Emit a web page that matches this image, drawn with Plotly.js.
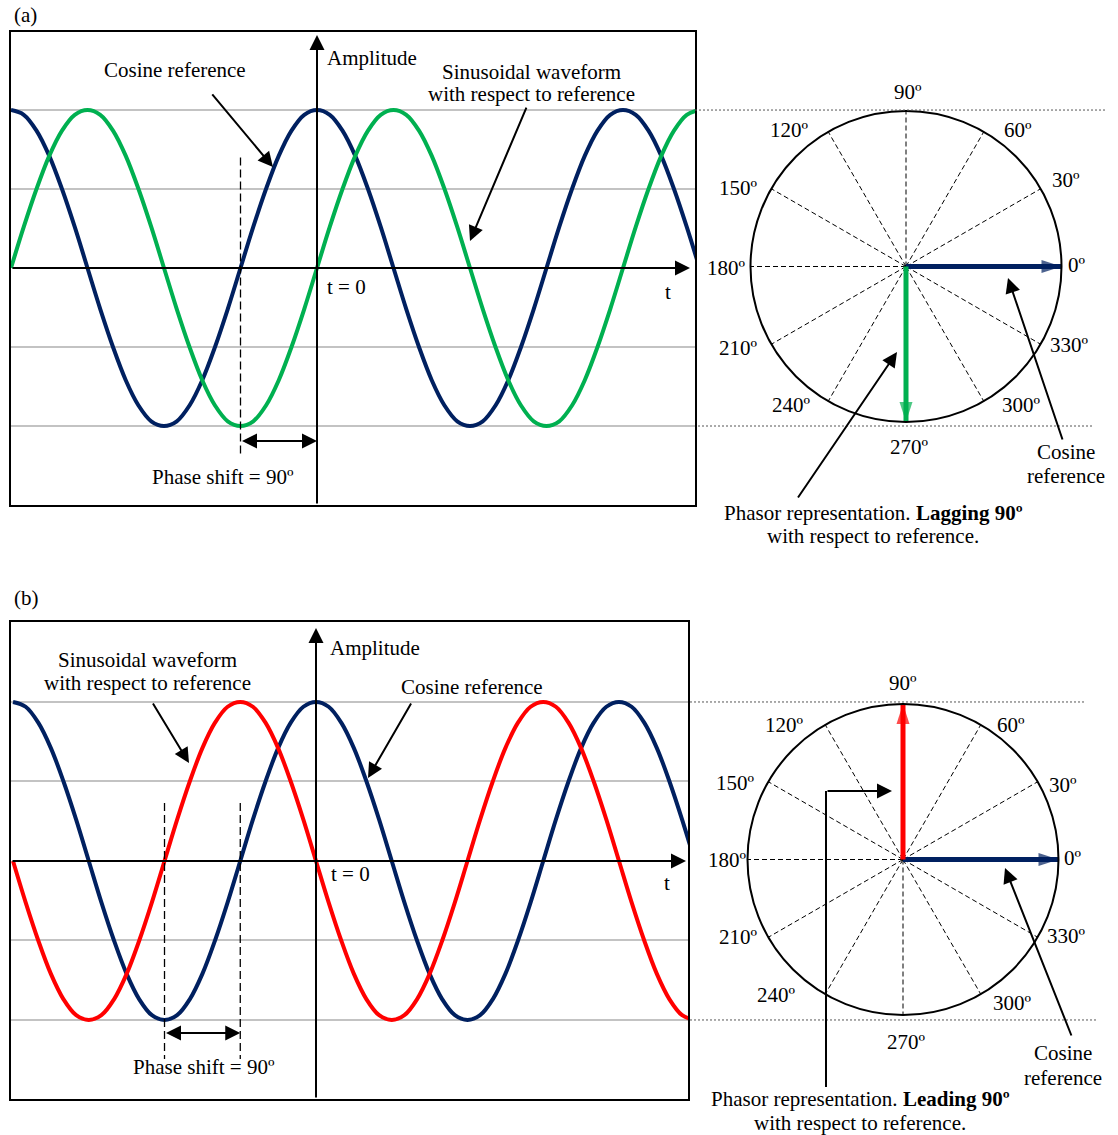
<!DOCTYPE html>
<html><head><meta charset="utf-8">
<script src="https://cdn.plot.ly/plotly-3.0.1.min.js"></script>
<style>html,body{margin:0;padding:0;background:#fff}</style>
</head><body><div id="chart" style="width:1118px;height:1135px"></div>
<script>
// ---------- data ----------
const phaseDeg = [-360,-345,-330,-315,-300,-285,-270,-255,-240,-225,-210,-195,
  -180,-165,-150,-135,-120,-105,-90,-75,-60,-45,-30,-15,
  0,15,30,45,60,75,90,105,120,135,150,165,
  180,195,210,225,240,255,270,285,300,315,330,345,
  360,375,390,405,420,435,450];
const cosineRef = [1,0.97,0.87,0.71,0.5,0.26,0,-0.26,-0.5,-0.71,-0.87,-0.97,
  -1,-0.97,-0.87,-0.71,-0.5,-0.26,0,0.26,0.5,0.71,0.87,0.97,
  1,0.97,0.87,0.71,0.5,0.26,0,-0.26,-0.5,-0.71,-0.87,-0.97,
  -1,-0.97,-0.87,-0.71,-0.5,-0.26,0,0.26,0.5,0.71,0.87,0.97,
  1,0.97,0.87,0.71,0.5,0.26,0];
const laggingWave = [0,0.26,0.5,0.71,0.87,0.97,1,0.97,0.87,0.71,0.5,0.26,
  0,-0.26,-0.5,-0.71,-0.87,-0.97,-1,-0.97,-0.87,-0.71,-0.5,-0.26,
  0,0.26,0.5,0.71,0.87,0.97,1,0.97,0.87,0.71,0.5,0.26,
  0,-0.26,-0.5,-0.71,-0.87,-0.97,-1,-0.97,-0.87,-0.71,-0.5,-0.26,
  0,0.26,0.5,0.71,0.87,0.97,1];
const leadingWave = [0,-0.26,-0.5,-0.71,-0.87,-0.97,-1,-0.97,-0.87,-0.71,-0.5,-0.26,
  0,0.26,0.5,0.71,0.87,0.97,1,0.97,0.87,0.71,0.5,0.26,
  0,-0.26,-0.5,-0.71,-0.87,-0.97,-1,-0.97,-0.87,-0.71,-0.5,-0.26,
  0,0.26,0.5,0.71,0.87,0.97,1,0.97,0.87,0.71,0.5,0.26,
  0,-0.26,-0.5,-0.71,-0.87,-0.97,-1];
const gridLevels = [-1,-0.5,0.5,1];
const angleTicks = [0,30,60,90,120,150,180,210,240,270,300,330];
const angleLabels = ['0º','30º','60º','90º','120º','150º','180º','210º','240º','270º','300º','330º'];
const phasorMagnitude = [0, 1];
const phasorAnglesA = [0, 270];   // cosine reference, lagging waveform
const phasorAnglesB = [0, 90];    // cosine reference, leading waveform

// ---------- styles ----------
const NAVY = '#002060', GREEN = '#00b050', RED = '#ff0000';
const F = {family:'"Liberation Serif","Times New Roman",serif', size:21, color:'#000'};
const W = 1118, H = 1135;
const PX = x => x / W, PY = y => 1 - y / H;

// label placement (pixels) for the angle labels of each phasor circle
const labelPosA = [[1077,265],[1066,180],[1018,130],[908,92],[789,130],[738,188],
  [726,268],[738,348],[791,405],[909,447],[1021,405],[1069,345]];
const labelPosB = [[1073,858],[1063,785],[1011,725],[903,683],[784,725],[735,783],
  [727,860],[738,937],[776,995],[906,1042],[1012,1003],[1066,936]];

function wave(x, y, color, xa, ya) {
  return {type:'scatter', mode:'lines', x:x, y:y, xaxis:xa, yaxis:ya,
    line:{color:color, width:4, shape:'spline', smoothing:1}, hoverinfo:'skip'};
}
function phasor(theta, color, subplot) {
  return {type:'scatterpolar', mode:'lines+markers', subplot:subplot,
    r: phasorMagnitude, theta:[theta, theta],
    line:{color:color, width:5},
    marker:{symbol:'arrow', size:[0,21], color:color, angle:[0, 90 - theta], line:{width:0}},
    hoverinfo:'skip'};
}

const traces = [
  wave(phaseDeg, cosineRef, NAVY, 'x', 'y'),
  wave(phaseDeg, laggingWave, GREEN, 'x', 'y'),
  wave(phaseDeg, cosineRef, NAVY, 'x2', 'y2'),
  wave(phaseDeg, leadingWave, RED, 'x2', 'y2'),
  phasor(phasorAnglesA[0], NAVY, 'polar'),
  phasor(phasorAnglesA[1], GREEN, 'polar'),
  phasor(phasorAnglesB[0], NAVY, 'polar2'),
  phasor(phasorAnglesB[1], RED, 'polar2')
];

function xax(domain, range, anchor) {
  return {domain:domain, range:range, anchor:anchor, showgrid:false, zeroline:false, showticklabels:false,
    ticks:'', showline:true, mirror:true, linecolor:'#000', linewidth:2, fixedrange:true};
}
function yax(domain, range, anchor) {
  return {domain:domain, range:range, anchor:anchor, tickmode:'array', tickvals:gridLevels,
    showgrid:true, gridcolor:'#c3c3c3', gridwidth:2, zeroline:false, showticklabels:false,
    ticks:'', showline:true, mirror:true, linecolor:'#000', linewidth:2, fixedrange:true};
}
function polarCfg(x0, x1, y0, y1) {
  return {domain:{x:[PX(x0), PX(x1)], y:[PY(y1), PY(y0)]}, bgcolor:'rgba(0,0,0,0)',
    radialaxis:{visible:false, range:[0,1], showgrid:false},
    angularaxis:{tickmode:'array', tickvals:angleTicks, ticktext:angleLabels, ticks:'',
      showticklabels:false,
      showgrid:true, gridcolor:'#000', gridwidth:1, griddash:'5px,3px',
      showline:true, linecolor:'#000', linewidth:2, tickfont:F,
      direction:'counterclockwise', rotation:0}};
}

function txt(xref, yref, x, y, text, xanchor) {
  return {xref:xref, yref:yref, x:x, y:y, text:text, showarrow:false, font:F,
    xanchor:xanchor || 'center', yanchor:'middle'};
}
function arrData(xref, yref, hx, hy, tx, ty, extra) {
  return Object.assign({xref:xref, yref:yref, x:hx, y:hy, ax:tx, ay:ty, axref:xref, ayref:yref,
    text:'', showarrow:true, arrowhead:2, arrowsize:1.5, arrowwidth:2, arrowcolor:'#000', standoff:0}, extra || {});
}
function arrPx(hx, hy, tx, ty) {
  return {xref:'paper', yref:'paper', x:PX(hx), y:PY(hy), ax:tx - hx, ay:ty - hy,
    text:'', showarrow:true, arrowhead:2, arrowsize:1.5, arrowwidth:2, arrowcolor:'#000', standoff:0};
}
function ptxt(x, y, text, xanchor) { return txt('paper', 'paper', PX(x), PY(y), text, xanchor); }

const annotations = [
  ptxt(12, 15, '(a)', 'left'),
  ptxt(12, 598, '(b)', 'left'),
  // ---- panel a waveform ----
  arrData('x','y', 438.8, 0, -360, 0),
  arrData('x','y', 0, 1.475, 0, -1.5),
  txt('x','y', -167.1, 1.253, 'Cosine reference'),
  arrData('x','y', -51.8, 0.639, -124.7, 1.108),
  txt('x','y', 9.4, 1.329, 'Amplitude', 'left'),
  txt('x','y', 251.8, 1.241, 'Sinusoidal waveform'),
  txt('x','y', 251.8, 1.101, 'with respect to reference'),
  arrData('x','y', 180, 0.171, 247.1, 1.025),
  txt('x','y', 9.4, -0.12, 't = 0', 'left'),
  txt('x','y', 412.9, -0.152, 't'),
  arrData('x','y', 0, -1.095, -90, -1.095, {arrowside:'end+start', startarrowhead:2, startarrowsize:1.5}),
  txt('x','y', -110.6, -1.323, 'Phase shift = 90º'),
  // ---- panel a phasor ----
  ptxt(1066, 452, 'Cosine'),
  ptxt(1066, 476, 'reference'),
  arrPx(1008, 278, 1063, 441),
  ptxt(873, 513, 'Phasor representation. <b>Lagging 90º</b>'),
  ptxt(873, 536, 'with respect to reference.'),
  arrPx(897, 352, 797, 499),
  // ---- panel b waveform ----
  arrData('x2','y2', 439.6, 0, -362.4, 0),
  arrData('x2','y2', 0, 1.465, 0, -1.497),
  txt('x2','y2', -200.8, 1.264, 'Sinusoidal waveform'),
  txt('x2','y2', -200.8, 1.119, 'with respect to reference'),
  arrData('x2','y2', -150.9, 0.616, -194.8, 1.0),
  txt('x2','y2', 14.3, 1.34, 'Amplitude', 'left'),
  txt('x2','y2', 185.3, 1.094, 'Cosine reference'),
  arrData('x2','y2', 61.8, 0.522, 114, 1.0),
  txt('x2','y2', 15.4, -0.082, 't = 0', 'left'),
  txt('x2','y2', 417, -0.138, 't'),
  arrData('x2','y2', -90, -1.082, -180, -1.082, {arrowside:'end+start', startarrowhead:2, startarrowsize:1.5}),
  txt('x2','y2', -133, -1.296, 'Phase shift = 90º'),
  // ---- panel b phasor ----
  ptxt(1063, 1053, 'Cosine'),
  ptxt(1063, 1078, 'reference'),
  arrPx(1005, 868, 1072, 1037),
  arrPx(892, 791, 826, 791),
  ptxt(860, 1099, 'Phasor representation. <b>Leading 90º</b>'),
  ptxt(860, 1123, 'with respect to reference.')
];
angleLabels.forEach((lab, i) => {
  annotations.push(ptxt(labelPosA[i][0], labelPosA[i][1], lab));
  annotations.push(ptxt(labelPosB[i][0], labelPosB[i][1], lab));
});

const dashed = {color:'#000', width:1.3, dash:'8px,4px'};
const dotted = {color:'#555', width:1, dash:'2px,2px'};
const shapes = [
  {type:'line', xref:'x', yref:'y', x0:-90, x1:-90, y0:0.70, y1:-1.196, line:dashed},
  {type:'line', xref:'x2', yref:'y2', x0:-180, x1:-180, y0:0.365, y1:-1.245, line:dashed},
  {type:'line', xref:'x2', yref:'y2', x0:-90, x1:-90, y0:0.365, y1:-1.245, line:dashed},
  {type:'line', xref:'paper', yref:'y', x0:PX(695), x1:PX(1105), y0:1, y1:1, line:dotted},
  {type:'line', xref:'paper', yref:'y', x0:PX(698), x1:PX(1093), y0:-1, y1:-1, line:dotted},
  {type:'line', xref:'paper', yref:'y2', x0:PX(690), x1:PX(1086), y0:1, y1:1, line:dotted},
  {type:'line', xref:'paper', yref:'y2', x0:PX(690), x1:PX(1096), y0:-1, y1:-1, line:dotted},
  {type:'line', xref:'paper', yref:'paper', x0:PX(826), x1:PX(826), y0:PY(1087), y1:PY(791), line:{color:'#000', width:2}}
];

const layout = {
  width:W, height:H, margin:{l:0, r:0, t:0, b:0},
  paper_bgcolor:'#fff', plot_bgcolor:'#fff', showlegend:false, font:F,
  xaxis: xax([PX(11), PX(695)], [-360, 444.7], 'y'),
  yaxis: yax([PY(505), PY(32)], [-1.5, 1.494], 'x'),
  xaxis2: xax([PX(11), PX(688)], [-362.4, 442], 'y2'),
  yaxis2: yax([PY(1099), PY(622)], [-1.497, 1.503], 'x2'),
  polar: polarCfg(750, 1062, 111, 422),
  polar2: polarCfg(747, 1059, 704, 1015),
  annotations: annotations,
  shapes: shapes,
  hovermode:false
};

Plotly.newPlot('chart', traces, layout, {staticPlot:true, displayModeBar:false});
</script>
</body></html>
